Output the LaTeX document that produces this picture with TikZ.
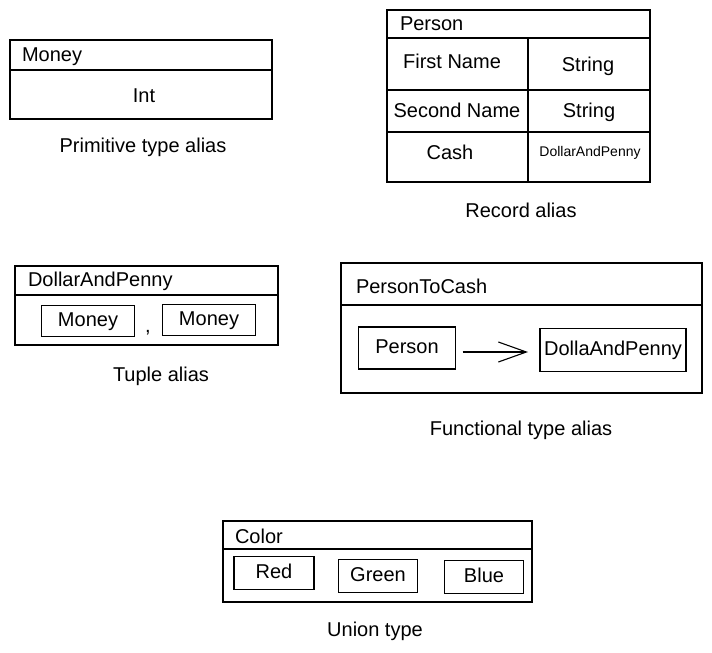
\documentclass[tikz,border=0pt]{standalone}
\usepackage{fontspec}
\setmainfont{Liberation Sans}
\usetikzlibrary{arrows.meta}

\begin{document}
\begin{tikzpicture}[x=1pt, y=-1pt, line width=1.1pt,
  every node/.style={font=\fontsize{20}{24}\selectfont, inner sep=0pt, outer sep=0pt,
    text height=14pt, text depth=4pt},
  typebox/.style={draw, anchor=north west},
  valbox/.style={draw, minimum height=31pt},
  small/.style={font=\fontsize{14}{17}\selectfont, text height=10pt, text depth=3pt}]
\useasboundingbox (0,0) rectangle (712,653);

% Primitive type alias
\node[typebox, minimum width=262pt, minimum height=79pt] (money) at (10,40) {};
\draw (money.west |- 0,70) -- (money.east |- 0,70);
\node[anchor=west] (money name) at (22,56) {Money};
\node (money int) at (144,97) {Int};
\node (money cap) at (143,147) {Primitive type alias};

% Record alias
\node[typebox, minimum width=263pt, minimum height=172pt] (person) at (387,10) {};
\draw (person.west |- 0,38) -- (person.east |- 0,38);
\draw (person.west |- 0,90) -- (person.east |- 0,90);
\draw (person.west |- 0,132) -- (person.east |- 0,132);
\coordinate (split) at (528,38);
\draw (split) -- (split |- person.south);
\node[anchor=west] (person name) at (400,25) {Person};
\node (first) at (452,63) {First Name};
\node (first type) at (588,66) {String};
\node (second) at (457,112) {Second Name};
\node (second type) at (589,112) {String};
\node (cash) at (450,154) {Cash};
\node[small] (cash type) at (590,153) {DollarAndPenny};
\node (person cap) at (521,212) {Record alias};

% Tuple alias
\node[typebox, minimum width=263pt, minimum height=79pt] (tuple) at (15,266) {};
\draw (tuple.west |- 0,295) -- (tuple.east |- 0,295);
\node[anchor=west] (tuple name) at (28,281) {DollarAndPenny};
\node[valbox, minimum width=93pt] (money a) at (88,321) {Money};
\node (comma) at (148,327) {,};
\node[valbox, minimum width=93pt] (money b) at (209,320) {Money};
\node (tuple cap) at (161,376) {Tuple alias};

% Functional type alias
\node[typebox, minimum width=361pt, minimum height=130pt] (func) at (341,263) {};
\draw (func.west |- 0,305) -- (func.east |- 0,305);
\node[anchor=west] (func name) at (356,288) {PersonToCash};
\node[valbox, minimum width=97pt, minimum height=42pt] (from) at (407,348) {Person};
\node[valbox, minimum width=146pt, minimum height=43pt] (to) at (613,350) {DollaAndPenny};
\draw[line width=1.6pt, -{Straight Barb[length=28pt, width=20pt, line width=1.1pt]},
  shorten <=7pt, shorten >=12pt] (from.east |- 0,352) -- (to.west |- 0,352);
\node (func cap) at (521,430) {Functional type alias};

% Union type
\node[typebox, minimum width=309pt, minimum height=81pt] (color) at (223,521) {};
\draw (color.west |- 0,549) -- (color.east |- 0,549);
\node[anchor=west] (color name) at (235,538) {Color};
\node[valbox, minimum width=80pt, minimum height=33pt] (red) at (274,573) {Red};
\node[valbox, minimum width=79pt, minimum height=33pt] (green) at (378,576) {Green};
\node[valbox, minimum width=79pt, minimum height=33pt] (blue) at (484,577) {Blue};
\node (color cap) at (375,631) {Union type};
\end{tikzpicture}
\end{document}
